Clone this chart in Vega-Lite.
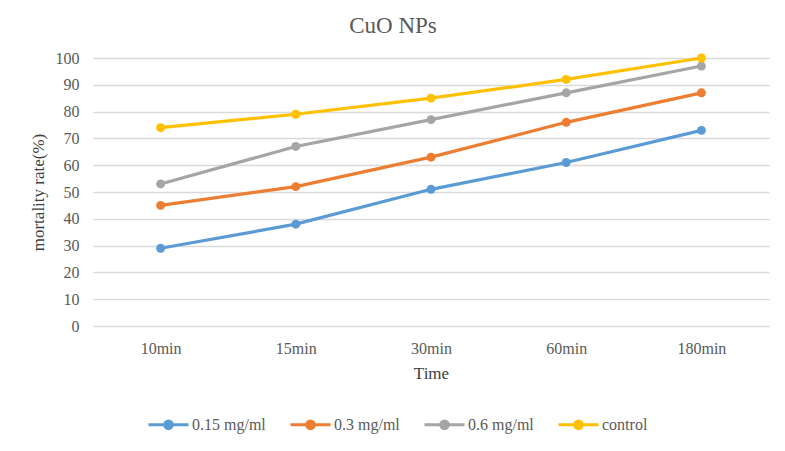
{
  "$schema": "https://vega.github.io/schema/vega-lite/v6.json",
  "autosize": {"type": "none"},
  "width": 676,
  "height": 268,
  "padding": {"left": 93, "top": 58, "right": 16, "bottom": 125},
  "background": "white",
  "title": {"text": "CuO NPs", "font": "Liberation Serif", "fontSize": 23, "fontWeight": "normal", "color": "#595959", "dx": -38, "offset": 12},
  "data": {"values": [
    {"time": "10min", "series": "0.15 mg/ml", "rate": 29},
    {"time": "15min", "series": "0.15 mg/ml", "rate": 38},
    {"time": "30min", "series": "0.15 mg/ml", "rate": 51},
    {"time": "60min", "series": "0.15 mg/ml", "rate": 61},
    {"time": "180min", "series": "0.15 mg/ml", "rate": 73},
    {"time": "10min", "series": "0.3 mg/ml", "rate": 45},
    {"time": "15min", "series": "0.3 mg/ml", "rate": 52},
    {"time": "30min", "series": "0.3 mg/ml", "rate": 63},
    {"time": "60min", "series": "0.3 mg/ml", "rate": 76},
    {"time": "180min", "series": "0.3 mg/ml", "rate": 87},
    {"time": "10min", "series": "0.6 mg/ml", "rate": 53},
    {"time": "15min", "series": "0.6 mg/ml", "rate": 67},
    {"time": "30min", "series": "0.6 mg/ml", "rate": 77},
    {"time": "60min", "series": "0.6 mg/ml", "rate": 87},
    {"time": "180min", "series": "0.6 mg/ml", "rate": 97},
    {"time": "10min", "series": "control", "rate": 74},
    {"time": "15min", "series": "control", "rate": 79},
    {"time": "30min", "series": "control", "rate": 85},
    {"time": "60min", "series": "control", "rate": 92},
    {"time": "180min", "series": "control", "rate": 100}
  ]},
  "encoding": {
    "x": {"field": "time", "type": "ordinal", "sort": ["10min", "15min", "30min", "60min", "180min"],
      "scale": {"type": "point", "padding": 0.5},
      "axis": {"title": "Time", "labelAngle": 0, "ticks": false, "domain": false, "grid": false,
        "labelFont": "Liberation Serif", "labelFontSize": 16, "labelColor": "#595959", "labelPadding": 14,
        "titleFont": "Liberation Serif", "titleFontSize": 17, "titleFontWeight": "normal", "titleColor": "#404040", "titlePadding": 9}},
    "y": {"field": "rate", "type": "quantitative",
      "scale": {"domain": [0, 100]},
      "axis": {"title": "mortality  rate(%)", "values": [0,10,20,30,40,50,60,70,80,90,100], "ticks": false, "domain": false,
        "gridColor": "#d9d9d9", "gridWidth": 1.3,
        "labelFont": "Liberation Serif", "labelFontSize": 16, "labelColor": "#595959", "labelPadding": 14,
        "titleFont": "Liberation Serif", "titleFontSize": 17, "titleFontWeight": "normal", "titleColor": "#404040", "titlePadding": 8}},
    "color": {"field": "series", "type": "nominal",
      "scale": {"domain": ["0.15 mg/ml", "0.3 mg/ml", "0.6 mg/ml", "control"], "range": ["#5b9bd5", "#ed7d31", "#a5a5a5", "#ffc000"]},
      "legend": {"title": null, "orient": "none", "legendX": 54, "legendY": 345, "direction": "horizontal",
        "symbolType": "M-1,0L1,0M-0.19,0A0.19,0.19,0,1,1,0.19,0A0.19,0.19,0,1,1,-0.19,0Z",
        "symbolSize": 1600, "symbolStrokeWidth": 3, "symbolOpacity": 1,
        "labelFont": "Liberation Serif", "labelFontSize": 16, "labelColor": "#595959", "labelOffset": 2, "columnPadding": 18,
        "encode": {"symbols": {"update": {"fill": {"scale": "color", "field": "value"}, "stroke": {"scale": "color", "field": "value"}}}}}}
  },
  "layer": [
    {"mark": {"type": "line", "strokeWidth": 3.2}},
    {"mark": {"type": "circle", "size": 80, "opacity": 1}}
  ],
  "config": {"view": {"stroke": null}}
}
